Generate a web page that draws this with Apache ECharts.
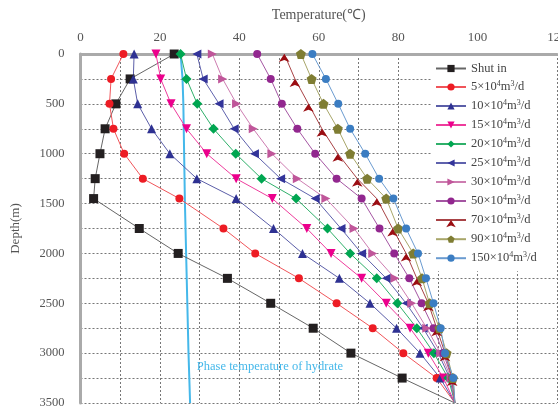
<!DOCTYPE html>
<html lang="en">
<head>
<meta charset="UTF-8">
<title>Temperature vs depth</title>
<script src="https://cdn.jsdelivr.net/npm/echarts@6/dist/echarts.min.js"></script>
</head>
<body style="margin:0;background:#fff">
<div id="container" style="width:558px;height:408px;"></div>
<script>
// depth of each measuring point (m)
var depths = [0, 250, 500, 750, 1000, 1250, 1450, 1750, 2000, 2250, 2500, 2750, 3000, 3250, 3500];

// temperature (C) at each depth, per production rate
var shutIn = [23.6, 12.5, 8.9, 6.2, 4.9, 3.7, 3.3, 14.8, 24.6, 37.0, 47.9, 58.6, 68.1, 81.0, 94.3];
var q5   = [10.8, 7.7, 7.3, 8.3, 11.0, 15.7, 24.9, 36.0, 44.0, 55.0, 64.5, 73.6, 81.3, 89.7, 94.3];
var q10  = [13.5, 13.3, 14.4, 17.9, 22.5, 29.3, 39.2, 48.6, 55.9, 65.2, 72.9, 79.6, 85.5, 90.6, 94.3];
var q15  = [19.0, 20.2, 22.8, 26.7, 31.8, 39.2, 48.3, 57.0, 63.1, 70.8, 77.0, 83.0, 87.6, 91.4, 94.3];
var q20  = [25.2, 26.7, 29.4, 33.5, 39.1, 45.6, 54.3, 62.2, 67.9, 74.6, 79.8, 84.7, 89.0, 92.6, 94.3];
var q25  = [29.3, 30.9, 34.9, 38.7, 43.8, 50.4, 59.1, 65.6, 70.8, 77.0, 82.0, 86.3, 90.1, 93.0, 94.3];
var q30  = [33.2, 35.8, 39.3, 43.5, 48.2, 54.6, 61.8, 68.9, 73.6, 79.2, 83.4, 87.2, 90.7, 93.3, 94.3];
var q50  = [44.5, 47.9, 50.7, 54.6, 59.1, 64.5, 70.8, 75.3, 79.0, 82.8, 85.9, 88.9, 91.4, 93.5, 94.3];
var q70  = [51.3, 54.0, 57.4, 60.8, 64.8, 69.7, 74.6, 78.6, 82.0, 84.7, 87.6, 89.7, 91.8, 93.6, 94.3];
var q90  = [55.5, 58.2, 61.2, 64.8, 67.9, 72.2, 77.0, 80.0, 83.8, 86.0, 87.9, 90.4, 92.2, 93.8, 94.3];
var q150 = [58.4, 61.8, 64.9, 67.9, 71.7, 75.2, 78.8, 82.0, 85.0, 87.0, 88.9, 90.7, 91.8, 93.9, 94.3];

// hydrate phase equilibrium temperature
var hydrateDepths = [0, 250, 500, 1000, 1500, 2000, 2500, 3000, 3500];
var hydrateTemps  = [25.2, 25.7, 25.9, 26.1, 26.3, 26.6, 26.9, 27.2, 27.6];

var rates = ['5', '10', '15', '20', '25', '30', '50', '70', '90', '150'];

var serif = 'Liberation Serif';

function pairs(temps) {
    return temps.map(function (t, i) {
        var p = { value: [t, depths[i]] };
        if (i === depths.length - 1) p.symbol = 'none';
        return p;
    });
}

var pentagon = 'path://M0,-10 L9.5,-3.1 L5.9,8.1 L-5.9,8.1 L-9.5,-3.1 Z';

function mk(name, temps, color, lineColor, symbol, size, rotate) {
    return {
        name: name,
        type: 'line',
        data: pairs(temps),
        symbol: symbol,
        symbolSize: size,
        symbolRotate: rotate || 0,
        itemStyle: { color: color },
        lineStyle: { color: lineColor, width: 1 },
        emphasis: { disabled: true }
    };
}

var series = [
    mk('Shut in', shutIn, '#231f20', '#666666', 'rect', 9),
    mk('5', q5, '#ed1c24', '#f0555a', 'circle', 8),
    mk('10', q10, '#2e3192', '#5b5ea8', 'triangle', 9),
    mk('15', q15, '#ec008c', '#ee3c9c', 'triangle', 9, 180),
    mk('20', q20, '#00a651', '#2fb06a', 'diamond', 10),
    mk('25', q25, '#33349a', '#5f62ad', 'triangle', 9, 90),
    mk('30', q30, '#c0569a', '#cd7cb0', 'triangle', 9, -90),
    mk('50', q50, '#92278f', '#a455a2', 'circle', 8),
    mk('70', q70, '#9b0d12', '#a84245', 'arrow', 8),
    mk('90', q90, '#7f7d33', '#a8a66a', pentagon, 10),
    mk('150', q150, '#3b7dc2', '#6a9bd0', 'circle', 8),
    {
        name: 'hydrate',
        type: 'line',
        symbol: 'none',
        data: hydrateTemps.map(function (t, i) { return [t, hydrateDepths[i]]; }),
        lineStyle: { color: '#45b8ea', width: 2 },
        z: 1,
        emphasis: { disabled: true },
        markPoint: {
            symbol: 'circle',
            symbolSize: 0,
            silent: true,
            data: [{ coord: [29.3, 3140] }],
            label: {
                show: true,
                position: 'right',
                distance: 0,
                formatter: 'Phase temperature of hydrate',
                color: '#45b8ea',
                fontFamily: serif,
                fontSize: 12.5
            }
        }
    }
];

var chart = echarts.init(document.getElementById('container'), null, { renderer: 'canvas' });

chart.setOption({
    animation: false,
    backgroundColor: '#fff',
    grid: { left: 80.5, top: 54, right: 1, bottom: 5, containLabel: false, outerBoundsMode: 'none' },
    xAxis: {
        type: 'value',
        position: 'top',
        min: 0, max: 120, interval: 10,
        name: 'Temperature(\u2103)',
        nameLocation: 'middle',
        nameGap: 32,
        nameTextStyle: { fontFamily: serif, fontSize: 14, color: '#555' },
        axisLine: { show: true, lineStyle: { color: '#aaa', width: 3 } },
        axisTick: { show: false },
        axisLabel: {
            margin: 10,
            hideOverlap: false,
            fontFamily: serif, fontSize: 13, color: '#555',
            formatter: function (v) { return v % 20 === 0 ? v : ''; }
        },
        splitLine: { show: true, lineStyle: { color: '#777', width: 1, type: [2, 2] } }
    },
    yAxis: {
        type: 'value',
        inverse: true,
        min: 0, max: 3500, interval: 250,
        name: 'Depth(m)',
        nameLocation: 'middle',
        nameGap: 58,
        nameTextStyle: { fontFamily: serif, fontSize: 13, color: '#555' },
        axisLine: { show: true, onZero: false, lineStyle: { color: '#aaa', width: 3 } },
        axisTick: { show: false },
        axisLabel: {
            margin: 16,
            fontFamily: serif, fontSize: 12.5, color: '#555',
            formatter: function (v) { return v % 500 === 0 ? v : ''; }
        },
        splitLine: { show: true, lineStyle: { color: '#777', width: 1, type: [2, 2] } }
    },
    legend: {
        orient: 'vertical',
        left: 432,
        top: 56,
        padding: [6, 20, 6, 3],
        backgroundColor: '#fff',
        itemWidth: 30,
        itemHeight: 9,
        itemGap: 5,
        selectedMode: false,
        data: ['Shut in'].concat(rates),
        formatter: function (name) {
            if (name === 'Shut in') return '{n|Shut in}';
            return '{n|' + name + '\u00d710}{s|4}{n|m}{s|3}{n|/d}';
        },
        textStyle: {
            fontFamily: serif,
            color: '#444',
            rich: {
                n: { fontFamily: serif, fontSize: 12.5, color: '#444', lineHeight: 14 },
                s: { fontFamily: serif, fontSize: 8, color: '#444', lineHeight: 14, verticalAlign: 'top', padding: [0, 0, 6, 0] }
            }
        }
    },
    series: series
});
</script>
</body>
</html>
